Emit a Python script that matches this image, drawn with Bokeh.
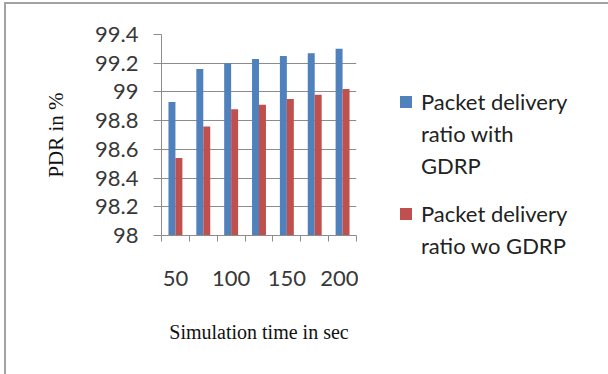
from bokeh.plotting import figure
from bokeh.layouts import row
from bokeh.models import FixedTicker, Legend, LegendItem, Range1d
from bokeh.embed import file_html
from bokeh.resources import INLINE

# data
sim_time = [50, 75, 100, 125, 150, 175, 200]
pdr_with_gdrp = [98.93, 99.16, 99.20, 99.23, 99.25, 99.27, 99.30]
pdr_wo_gdrp = [98.54, 98.76, 98.88, 98.91, 98.95, 98.98, 99.02]
shown_labels = {0.5: "50", 2.5: "100", 4.5: "150", 6.5: "200"}
series_names = ["Packet delivery\nratio with\nGDRP", "Packet delivery\nratio wo GDRP"]

BLUE = "#4F81BD"
RED = "#C0504D"
GRID = "#8C8C8C"
BORDER = "#A3A3A3"

idx = list(range(len(sim_time)))
x_blue = [i + 0.5 - 0.125 for i in idx]
x_red = [i + 0.5 + 0.125 for i in idx]

p = figure(width=352, height=370, output_backend="svg", toolbar_location=None,
           x_range=Range1d(0, len(sim_time)), y_range=Range1d(98, 99.4),
           min_border_left=155, min_border_right=2, min_border_top=30, min_border_bottom=139)
p.outline_line_color = None
p.background_fill_color = "white"
p.border_fill_color = "white"

rb = p.vbar(x=x_blue, top=pdr_with_gdrp, bottom=98, width=0.25, fill_color=BLUE, line_color=None)
rr = p.vbar(x=x_red, top=pdr_wo_gdrp, bottom=98, width=0.25, fill_color=RED, line_color=None)

# y axis
p.yaxis.ticker = FixedTicker(ticks=[98, 98.2, 98.4, 98.6, 98.8, 99, 99.2, 99.4])
p.yaxis.major_label_overrides = {98: "98", 99: "99"}
p.yaxis.axis_line_color = GRID
p.yaxis.major_tick_line_color = GRID
p.yaxis.major_tick_out = 8
p.yaxis.major_tick_in = 0
p.yaxis.minor_tick_line_color = None
p.yaxis.major_label_text_font = "Lato"
p.yaxis.major_label_text_font_size = "22px"
p.yaxis.major_label_text_color = "#383838"
p.yaxis.major_label_standoff = 15
p.yaxis.axis_label = "PDR in %"
p.yaxis.axis_label_text_font = "Liberation Serif"
p.yaxis.axis_label_text_font_style = "normal"
p.yaxis.axis_label_text_font_size = "21px"
p.yaxis.axis_label_text_color = "#111111"
p.yaxis.axis_label_standoff = 24

# x axis
p.xaxis.ticker = FixedTicker(ticks=list(shown_labels.keys()), minor_ticks=[0, 1, 2, 3, 4, 5, 6, 7])
p.xaxis.major_label_overrides = shown_labels
p.xaxis.axis_line_color = GRID
p.xaxis.major_tick_line_color = None
p.xaxis.major_tick_out = 0
p.xaxis.major_tick_in = 0
p.xaxis.minor_tick_line_color = GRID
p.xaxis.minor_tick_out = 6
p.xaxis.minor_tick_in = 0
p.xaxis.major_label_text_font = "Lato"
p.xaxis.major_label_text_font_size = "22px"
p.xaxis.major_label_text_color = "#383838"
p.xaxis.major_label_standoff = 29
p.xaxis.axis_label = "Simulation time in sec"
p.xaxis.axis_label_text_font = "Liberation Serif"
p.xaxis.axis_label_text_font_style = "normal"
p.xaxis.axis_label_text_font_size = "20px"
p.xaxis.axis_label_text_color = "#111111"
p.xaxis.axis_label_standoff = 32

p.xgrid.grid_line_color = None
p.ygrid.grid_line_color = GRID
p.ygrid.ticker = FixedTicker(ticks=[98.2, 98.4, 98.6, 98.8, 99, 99.2, 99.4])

# legend panel: a second figure without axes, frame covering its whole height
q = figure(width=250, height=370, output_backend="svg", toolbar_location=None,
           x_axis_type=None, y_axis_type=None,
           x_range=Range1d(0, 1), y_range=Range1d(0, 1),
           min_border_left=0, min_border_right=0, min_border_top=0, min_border_bottom=0)
unaligned = False
if "frame_align" in q.properties():
    q.frame_align = False
    p.frame_align = False
    unaligned = True
q.outline_line_color = None
q.xgrid.grid_line_color = None
q.ygrid.grid_line_color = None
q.background_fill_color = "white"
q.border_fill_color = "white"

# legend swatches (off-range so only the legend shows them)
lb = q.vbar(x=[10], top=[10], bottom=9, width=0.1, fill_color=BLUE, line_color=None)
lr = q.vbar(x=[10], top=[10], bottom=9, width=0.1, fill_color=RED, line_color=None)

def dummy():
    return q.vbar(x=[10], top=[10], bottom=9, width=0.1, fill_alpha=0, line_alpha=0)

def make_legend(name, rend, loc):
    lines = name.split("\n")
    items = [LegendItem(label=lines[0], renderers=[rend])]
    items += [LegendItem(label=t, renderers=[dummy()]) for t in lines[1:]]
    lg = Legend(items=items, location=loc)
    lg.border_line_color = None
    lg.background_fill_alpha = 0
    lg.label_text_font = "Lato"
    lg.label_text_font_size = "22px"
    lg.label_text_color = "#222222"
    lg.glyph_width = 15
    lg.glyph_height = 15
    lg.label_height = 32
    lg.spacing = 0
    lg.padding = 0
    lg.margin = 0
    lg.label_standoff = 8
    q.add_layout(lg, "center")

if unaligned:
    make_legend(series_names[0], lb, (40, 193))
    make_legend(series_names[1], lr, (40, 113))
else:
    make_legend(series_names[0], lb, (40, 54))
    make_legend(series_names[1], lr, (40, -22))

layout = row(p, q)
layout.styles = {"border-left": f"2px solid {BORDER}", "border-top": f"2px solid {BORDER}",
                 "margin-left": "4px", "margin-top": "2px"}

open("out.html", "w").write(file_html(layout, INLINE))
